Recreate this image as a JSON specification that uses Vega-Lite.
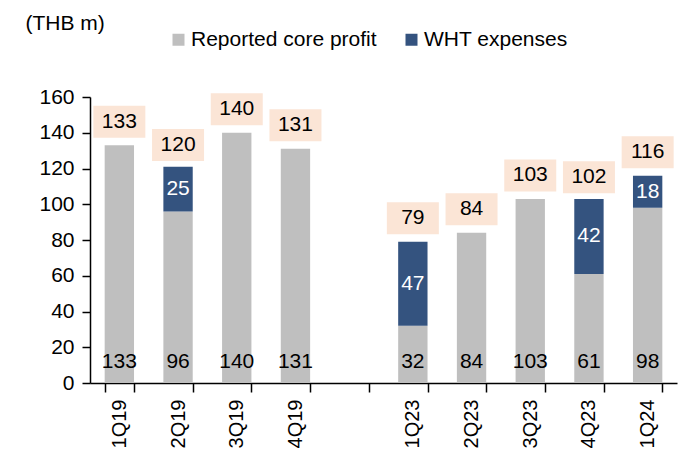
{
  "$schema": "https://vega.github.io/schema/vega-lite/v6.json",
  "width": 587,
  "height": 286,
  "autosize": "none",
  "padding": {"left": 90, "top": 97, "right": 17, "bottom": 66},
  "background": "white",
  "config": {
    "view": {"stroke": null},
    "text": {"font": "Liberation Sans", "fontSize": 21, "color": "black"},
    "axisY": {
      "labelOverlap": false,
      "grid": false,
      "domainColor": "black",
      "tickColor": "black",
      "domainWidth": 1.5,
      "tickWidth": 1.5,
      "tickSize": 8,
      "labelFontSize": 21,
      "labelFont": "Liberation Sans",
      "labelColor": "black",
      "labelPadding": 8,
      "titleAngle": 0,
      "titleX": -65,
      "titleY": -68,
      "titleAlign": "left",
      "titleBaseline": "alphabetic",
      "titleFontSize": 21,
      "titleFontWeight": "normal",
      "titleFont": "Liberation Sans",
      "titleColor": "black"
    }
  },
  "datasets": {
    "bars": [
      {"quarter": "1Q19", "series": "Reported core profit", "value": 133},
      {"quarter": "2Q19", "series": "Reported core profit", "value": 96},
      {"quarter": "2Q19", "series": "WHT expenses", "value": 25},
      {"quarter": "3Q19", "series": "Reported core profit", "value": 140},
      {"quarter": "4Q19", "series": "Reported core profit", "value": 131},
      {"quarter": "1Q23", "series": "Reported core profit", "value": 32},
      {"quarter": "1Q23", "series": "WHT expenses", "value": 47},
      {"quarter": "2Q23", "series": "Reported core profit", "value": 84},
      {"quarter": "3Q23", "series": "Reported core profit", "value": 103},
      {"quarter": "4Q23", "series": "Reported core profit", "value": 61},
      {"quarter": "4Q23", "series": "WHT expenses", "value": 42},
      {"quarter": "1Q24", "series": "Reported core profit", "value": 98},
      {"quarter": "1Q24", "series": "WHT expenses", "value": 18}
    ],
    "totals": [
      {"quarter": "1Q19", "total": 133},
      {"quarter": "2Q19", "total": 120},
      {"quarter": "3Q19", "total": 140},
      {"quarter": "4Q19", "total": 131},
      {"quarter": "1Q23", "total": 79},
      {"quarter": "2Q23", "total": 84},
      {"quarter": "3Q23", "total": 103},
      {"quarter": "4Q23", "total": 102},
      {"quarter": "1Q24", "total": 116}
    ]
  },
  "encoding": {
    "x": {
      "field": "quarter",
      "type": "nominal",
      "sort": null,
      "title": null,
      "scale": {
        "domain": ["1Q19", "2Q19", "3Q19", "4Q19", "gap", "1Q23", "2Q23", "3Q23", "4Q23", "1Q24"],
        "paddingInner": 0.5,
        "paddingOuter": 0.25
      },
      "axis": {
        "labelAngle": -90,
        "tickBand": "extent",
        "tickSize": 9,
        "labelPadding": 7,
        "labelFontSize": 20,
        "labelFont": "Liberation Sans",
        "labelColor": "black",
        "labelExpr": "datum.value == 'gap' ? '' : datum.value",
        "domainColor": "black",
        "tickColor": "black",
        "domainWidth": 1.5,
        "tickWidth": 1.5
      }
    }
  },
  "layer": [
    {
      "data": {"name": "bars"},
      "mark": {"type": "bar"},
      "encoding": {
        "y": {
          "field": "value",
          "type": "quantitative",
          "stack": "zero",
          "title": "(THB m)",
          "scale": {"domain": [0, 160], "nice": false},
          "axis": {"values": [0, 20, 40, 60, 80, 100, 120, 140, 160], "labelOverlap": false}
        },
        "color": {
          "field": "series",
          "type": "nominal",
          "scale": {"domain": ["Reported core profit", "WHT expenses"], "range": ["#BFBFBF", "#34537F"]},
          "legend": {
            "orient": "none",
            "legendX": 78,
            "legendY": -68,
            "direction": "horizontal",
            "title": null,
            "symbolType": "square",
            "symbolSize": 144,
            "symbolStrokeWidth": 0,
            "labelFontSize": 21,
            "labelFont": "Liberation Sans",
            "labelColor": "black",
            "labelLimit": 0,
            "labelOffset": 2,
            "columnPadding": 24,
            "padding": 0
          }
        },
        "order": {"field": "series", "sort": "ascending"}
      }
    },
    {
      "data": {"name": "totals"},
      "mark": {"type": "point", "shape": "M-1,-1.519H1V-0.288H-1Z", "size": 2704, "filled": true, "color": "#FBE5D6", "opacity": 1, "strokeWidth": 0},
      "encoding": {
        "y": {"field": "total", "type": "quantitative", "title": "(THB m)", "axis": {"values": [0, 20, 40, 60, 80, 100, 120, 140, 160], "labelOverlap": false}}
      }
    },
    {
      "data": {"name": "totals"},
      "mark": {"type": "text", "dy": -23.5, "baseline": "middle"},
      "encoding": {
        "y": {"field": "total", "type": "quantitative", "title": "(THB m)", "axis": {"values": [0, 20, 40, 60, 80, 100, 120, 140, 160], "labelOverlap": false}},
        "text": {"field": "total", "type": "quantitative"}
      }
    },
    {
      "data": {"name": "bars"},
      "transform": [{"filter": "datum.series == 'Reported core profit'"}],
      "mark": {"type": "text", "dy": -21, "baseline": "middle"},
      "encoding": {
        "y": {"datum": 0, "type": "quantitative", "title": "(THB m)", "axis": {"values": [0, 20, 40, 60, 80, 100, 120, 140, 160], "labelOverlap": false}},
        "text": {"field": "value", "type": "quantitative"}
      }
    },
    {
      "data": {"name": "bars"},
      "transform": [
        {"stack": "value", "groupby": ["quarter"], "sort": [{"field": "series", "order": "ascending"}], "as": ["v0", "v1"]},
        {"filter": "datum.series == 'WHT expenses'"},
        {"fold": ["v0", "v1"], "as": ["edge", "pos"]},
        {"aggregate": [{"op": "mean", "field": "pos", "as": "mid"}], "groupby": ["quarter", "value"]}
      ],
      "mark": {"type": "text", "baseline": "middle", "color": "white"},
      "encoding": {
        "y": {"field": "mid", "type": "quantitative", "title": "(THB m)", "axis": {"values": [0, 20, 40, 60, 80, 100, 120, 140, 160], "labelOverlap": false}},
        "text": {"field": "value", "type": "quantitative"}
      }
    }
  ]
}
